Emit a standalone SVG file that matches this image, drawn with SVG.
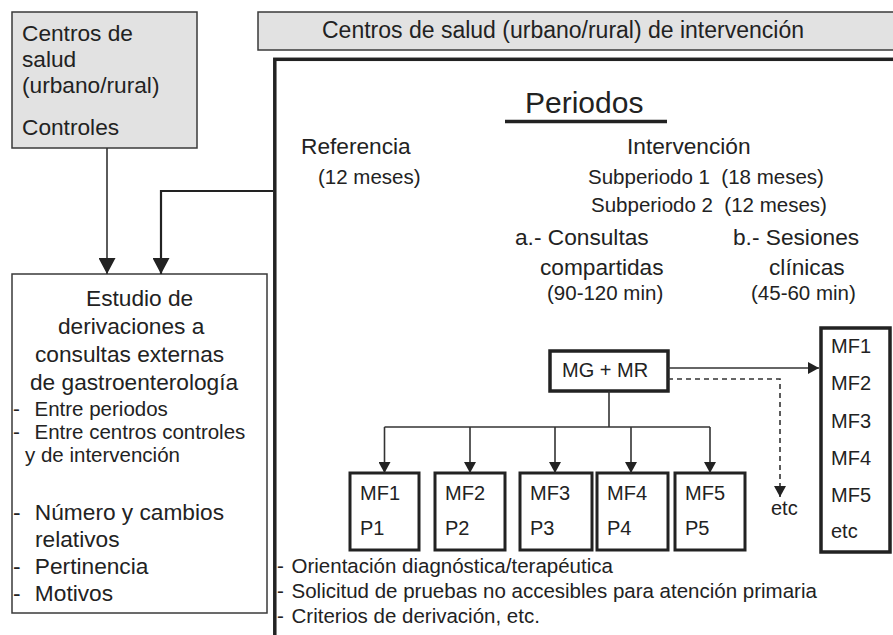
<svg xmlns="http://www.w3.org/2000/svg" width="893" height="635" viewBox="0 0 893 635">
<style>
text{font-family:"Liberation Sans",Arial,Helvetica,sans-serif;fill:#222;white-space:pre}
.b{font-size:22.7px}
.s{font-size:20.5px}
.m{font-size:20px}
.gray{fill:#e2e2e2;stroke:#3a3a3a;stroke-width:1.5}
.thin{fill:#fff;stroke:#3a3a3a;stroke-width:1.5}
.thick{fill:#fff;stroke:#222;stroke-width:3}
.ln{fill:none;stroke:#333;stroke-width:1.6}
.ln2{fill:none;stroke:#222;stroke-width:2.2}
.dash{fill:none;stroke:#333;stroke-width:1.6;stroke-dasharray:5 4}
</style>
<defs>
<marker id="ab" markerUnits="userSpaceOnUse" markerWidth="17" markerHeight="17" refX="16" refY="8.5" orient="auto" viewBox="0 0 17 17"><path d="M0,0 L16,8.5 L0,17 z" fill="#222"/></marker>
<marker id="as" markerUnits="userSpaceOnUse" markerWidth="12" markerHeight="12" refX="11" refY="6" orient="auto" viewBox="0 0 12 12"><path d="M0,0 L11,6 L0,12 z" fill="#222"/></marker>
</defs>

<g id="controles">
<rect class="gray" x="12" y="12" width="185" height="136"/>
<text class="b" x="22" y="41">Centros de</text>
<text class="b" x="22" y="67">salud</text>
<text class="b" x="22" y="93">(urbano/rural)</text>
<text class="b" x="22" y="135">Controles</text>
</g>

<g id="banner">
<rect class="gray" x="258" y="12" width="700" height="38"/>
<text class="b" x="322" y="38" style="font-size:23px">Centros de salud (urbano/rural) de intervención</text>
</g>

<g id="intervencion-frame">
<rect x="274.8" y="59.3" width="700" height="700" fill="none" stroke="#222" stroke-width="3.5"/>
<text x="525" y="113" style="font-size:30px">Periodos</text>
<line x1="505" y1="121.5" x2="667" y2="121.5" stroke="#222" stroke-width="3.5"/>
<text class="b" x="301" y="154">Referencia</text>
<text class="s" x="318" y="184">(12 meses)</text>
<text class="b" x="627" y="154">Intervención</text>
<text class="s" x="588" y="184">Subperiodo 1  (18 meses)</text>
<text class="s" x="591" y="212">Subperiodo 2  (12 meses)</text>
<text class="b" x="515" y="245">a.- Consultas</text>
<text class="b" x="540" y="275">compartidas</text>
<text class="s" x="547" y="300">(90-120 min)</text>
<text class="b" x="733" y="245">b.- Sesiones</text>
<text class="b" x="769" y="275">clínicas</text>
<text class="s" x="751" y="300">(45-60 min)</text>
<text class="s" x="277" y="573">-<tspan dx="2"> Orientación diagnóstica/terapéutica</tspan></text>
<text class="s" x="277" y="598">-<tspan dx="2"> Solicitud de pruebas no accesibles para atención primaria</tspan></text>
<text class="s" x="277" y="623">-<tspan dx="2"> Criterios de derivación, etc.</tspan></text>
</g>

<g id="estudio">
<rect class="thin" x="12" y="274" width="255" height="339"/>
<text class="b" x="86" y="306">Estudio de</text>
<text class="b" x="58" y="334">derivaciones a</text>
<text class="b" x="35" y="362">consultas externas</text>
<text class="b" x="30" y="390">de gastroenterología</text>
<text class="s" x="13" y="416">-<tspan dx="9"> Entre periodos</tspan></text>
<text class="s" x="13" y="439">-<tspan dx="9"> Entre centros controles</tspan></text>
<text class="s" x="25" y="462">y de intervención</text>
<text class="b" x="13" y="520">-<tspan dx="8"> Número y cambios</tspan></text>
<text class="b" x="35" y="547">relativos</text>
<text class="b" x="13" y="574">-<tspan dx="8"> Pertinencia</tspan></text>
<text class="b" x="13" y="601">-<tspan dx="8"> Motivos</tspan></text>
</g>

<g id="mg-mr">
<rect class="thick" x="550" y="351" width="118" height="40" style="stroke-width:3.5"/>
<text class="m" x="562" y="377">MG + MR</text>
</g>

<g id="mf1"><rect class="thick" x="350" y="473" width="69" height="77"/><text class="m" x="360" y="500">MF1</text><text class="m" x="360" y="535">P1</text></g>
<g id="mf2"><rect class="thick" x="435" y="473" width="70" height="77"/><text class="m" x="445" y="500">MF2</text><text class="m" x="445" y="535">P2</text></g>
<g id="mf3"><rect class="thick" x="520" y="473" width="72" height="77"/><text class="m" x="530" y="500">MF3</text><text class="m" x="530" y="535">P3</text></g>
<g id="mf4"><rect class="thick" x="597" y="473" width="71" height="77"/><text class="m" x="607" y="500">MF4</text><text class="m" x="607" y="535">P4</text></g>
<g id="mf5"><rect class="thick" x="675" y="473" width="70" height="77"/><text class="m" x="685" y="500">MF5</text><text class="m" x="685" y="535">P5</text></g>

<g id="etc-label"><text class="m" x="771" y="515">etc</text></g>

<g id="sesiones">
<rect class="thick" x="821" y="328" width="69" height="224" style="stroke-width:3.5"/>
<text class="m" x="831" y="353">MF1</text>
<text class="m" x="831" y="390">MF2</text>
<text class="m" x="831" y="428">MF3</text>
<text class="m" x="831" y="465">MF4</text>
<text class="m" x="831" y="502">MF5</text>
<text class="m" x="831" y="538">etc</text>
</g>

<g id="connectors">
<path class="ln" d="M107,148 V274" marker-end="url(#ab)"/>
<path class="ln2" d="M273,191 H161 V274" marker-end="url(#ab)"/>
<path class="ln" d="M609,391 V427"/>
<path class="ln" d="M384.5,427 H710"/>
<path class="ln" d="M384.5,427 V473" marker-end="url(#as)"/>
<path class="ln" d="M470,427 V473" marker-end="url(#as)"/>
<path class="ln" d="M555,427 V473" marker-end="url(#as)"/>
<path class="ln" d="M631,427 V473" marker-end="url(#as)"/>
<path class="ln" d="M710,427 V473" marker-end="url(#as)"/>
<path class="ln" d="M668,368 H819" marker-end="url(#as)"/>
<path class="dash" d="M668,379 H780 V497" marker-end="url(#as)"/>
</g>
</svg>
